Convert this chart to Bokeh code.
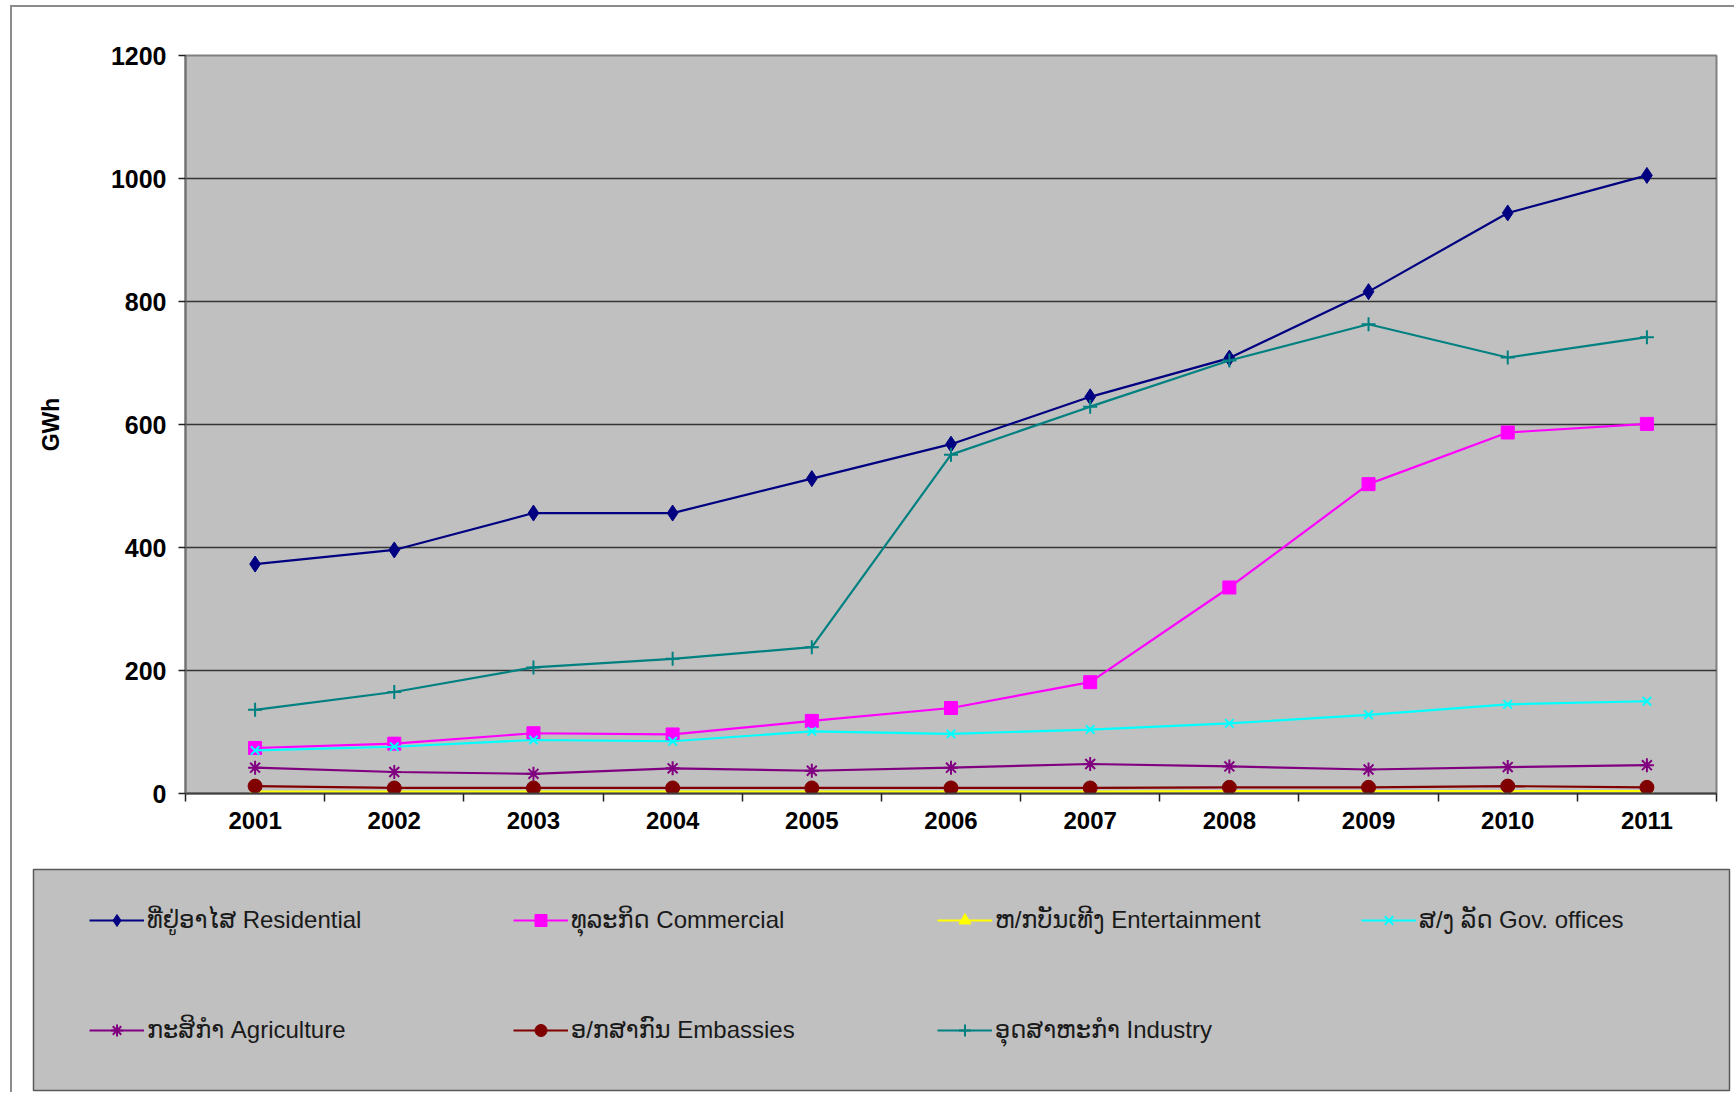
from bokeh.plotting import figure
from bokeh.models import Legend, LegendItem, FixedTicker, Range1d
from bokeh.embed import file_html
from bokeh.resources import INLINE

years = [2001, 2002, 2003, 2004, 2005, 2006, 2007, 2008, 2009, 2010, 2011]
residential = [373, 396, 456, 456, 512, 568, 645, 708, 816, 944, 1005]
commercial = [74, 81, 98, 96, 118, 139, 181, 335, 503, 587, 601]
entertainment = [3, 3, 3, 3, 3, 3, 3, 4, 4, 4, 4]
gov_offices = [70, 76, 87, 85, 101, 97, 104, 114, 128, 145, 150]
agriculture = [42, 35, 32, 41, 37, 42, 48, 44, 39, 43, 46]
embassies = [12, 9, 9, 9, 9, 9, 9, 10, 10, 12, 10]
industry = [136, 165, 205, 219, 238, 551, 629, 704, 763, 709, 742]

labels = ["ທີ່ຢູ່ອາໄສ Residential", "ທຸລະກິດ Commercial", "ຫ/ກບັນເທີງ Entertainment",
          "ສ/ງ ລັດ Gov. offices", "ກະສິກຳ Agriculture", "ອ/ກສາກົນ Embassies",
          "ອຸດສາຫະກຳ Industry"]
y_ticks = [0, 200, 400, 600, 800, 1000, 1200]

FONT = "'Liberation Sans', 'DejaVu Sans', sans-serif"
BORDER = "2px solid #8c8c8c"

# ---------------- chart ----------------
p = figure(width=1724, height=854, output_backend="svg", toolbar_location=None,
           x_range=Range1d(2000.5, 2011.5), y_range=Range1d(0, 1200),
           min_border_left=173, min_border_right=20, min_border_top=48, min_border_bottom=68)
p.styles = {"margin-left": "10px", "margin-top": "5px",
            "border-left": BORDER, "border-top": BORDER}
p.background_fill_color = "#C0C0C0"
p.border_fill_color = "white"
p.outline_line_color = "#808080"
p.outline_line_width = 2

p.xaxis.ticker = FixedTicker(ticks=years, minor_ticks=[y + 0.5 for y in [2000] + years])
p.xaxis.major_tick_out = 0
p.xaxis.major_tick_in = 0
p.xaxis.minor_tick_out = 8
p.xaxis.minor_tick_in = 0
p.xaxis.minor_tick_line_color = "#202020"
p.xaxis.minor_tick_line_width = 1.5
p.xaxis.major_label_standoff = 10
p.xaxis.axis_line_color = "#404040"
p.xaxis.axis_line_width = 2

p.yaxis.ticker = FixedTicker(ticks=y_ticks, minor_ticks=[])
p.yaxis.major_tick_out = 7
p.yaxis.major_tick_in = 0
p.yaxis.major_tick_line_color = "#202020"
p.yaxis.major_tick_line_width = 1.5
p.yaxis.major_label_standoff = 12
p.yaxis.axis_line_color = "#707070"
p.yaxis.axis_line_width = 2
p.yaxis.axis_label = "GWh"
p.yaxis.axis_label_standoff = 44
p.yaxis.axis_label_text_font_size = "23px"
p.yaxis.axis_label_text_font_style = "bold"
p.yaxis.axis_label_text_font = FONT
p.yaxis.axis_label_text_color = "black"

for ax, fs in ((p.xaxis, "24px"), (p.yaxis, "25px")):
    ax.major_label_text_font = FONT
    ax.major_label_text_font_size = fs
    ax.major_label_text_font_style = "bold"
    ax.major_label_text_color = "black"

p.xgrid.grid_line_color = None
p.ygrid.grid_line_color = "#353535"
p.ygrid.grid_line_width = 1.5

series = [
    (residential, "#000080", "diamond", 16),
    (commercial, "#FF00FF", "square", 13),
    (entertainment, "#FFFF00", "triangle", 13),
    (gov_offices, "#00FFFF", "x", 12),
    (agriculture, "#800080", "asterisk", 14),
    (embassies, "#800000", "circle", 14),
    (industry, "#008080", "cross", 14),
]

def add_series(fig, vals, color, marker, size, visible=True):
    ln = fig.line(years, vals, line_color=color, line_width=2.2, visible=visible)
    sc = fig.scatter(years, vals, marker=marker, size=size, fill_color=color, line_color=color,
                     line_width=2 if marker in ("x", "asterisk", "cross") else 1, visible=visible)
    return ln, sc

for vals, color, marker, size in series:
    add_series(p, vals, color, marker, size)

# ---------------- legend panel ----------------
lf = figure(width=1724, height=233, output_backend="svg", toolbar_location=None,
            x_range=Range1d(2000.5, 2011.5), y_range=Range1d(0, 1200),
            min_border_left=21, min_border_right=7, min_border_top=10, min_border_bottom=2)
lf.styles = {"margin-left": "10px", "border-left": BORDER}
lf.xaxis.visible = False
lf.yaxis.visible = False
lf.grid.visible = False
lf.background_fill_color = "#C0C0C0"
lf.border_fill_color = "white"
lf.outline_line_color = "#5a5a5a"
lf.outline_line_width = 1.5

items = []
for (vals, color, marker, size), lab in zip(series, labels):
    ln, sc = add_series(lf, vals, color, marker, size, visible=False)
    items.append(LegendItem(label=lab, renderers=[ln, sc]))

common = dict(orientation="horizontal", border_line_color=None, background_fill_alpha=0,
              padding=0, margin=0, spacing=60, glyph_width=55, glyph_height=30,
              label_height=30, label_width=306, label_standoff=3,
              label_text_font_size="24px", label_text_font=FONT, label_text_color="#1a1a1a")
lf.add_layout(Legend(items=items[:4], location=(56, 155), **common), "center")
lf.add_layout(Legend(items=items[4:], location=(56, 45), **common), "center")

open("out.html", "w").write(file_html([p, lf], INLINE))
